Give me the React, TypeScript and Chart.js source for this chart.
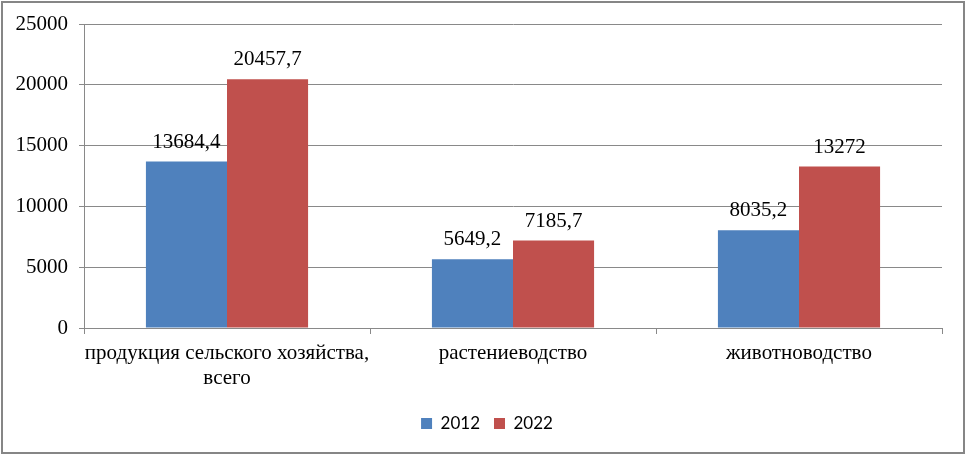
import React, { useEffect, useRef } from "react";
import { Chart, registerables } from "chart.js";

Chart.register(...registerables);

const categories: (string | string[])[] = [
  ["продукция сельского хозяйства,", "всего"],
  "растениеводство",
  "животноводство",
];
const series2012 = [13684.4, 5649.2, 8035.2];
const series2022 = [20457.7, 7185.7, 13272];
const labels2012 = ["13684,4", "5649,2", "8035,2"];
const labels2022 = ["20457,7", "7185,7", "13272"];
const yTicks = { min: 0, max: 25000, step: 5000 };

const SERIF = "'Liberation Serif', 'Times New Roman', serif";
const GRID = "#898989";

const valueLabels = {
  id: "valueLabels",
  afterDatasetsDraw(chart: any) {
    const ctx = chart.ctx;
    ctx.save();
    ctx.font = `21px ${SERIF}`;
    ctx.fillStyle = "#000";
    ctx.textAlign = "center";
    ctx.textBaseline = "bottom";
    chart.data.datasets.forEach((ds: any, di: number) => {
      const meta = chart.getDatasetMeta(di);
      meta.data.forEach((bar: any, i: number) => {
        ctx.fillText(ds.valueLabels[i], bar.x, bar.y - 9);
      });
    });
    ctx.restore();
  },
};

const frame = {
  id: "frame",
  afterDraw(chart: any) {
    const ctx = chart.ctx;
    ctx.save();
    ctx.strokeStyle = "#868686";
    ctx.lineWidth = 2;
    ctx.strokeRect(2, 2, chart.width - 4, chart.height - 3);
    ctx.restore();
  },
};

export default function App() {
  const ref = useRef<HTMLCanvasElement>(null);
  useEffect(() => {
    const chart = new Chart(ref.current as HTMLCanvasElement, {
      type: "bar",
      data: {
        labels: categories,
        datasets: [
          {
            label: "2012",
            data: series2012,
            backgroundColor: "#4F81BD",
            valueLabels: labels2012,
          } as any,
          {
            label: "2022",
            data: series2022,
            backgroundColor: "#C0504D",
            valueLabels: labels2022,
          } as any,
        ],
      },
      options: {
        animation: false,
        responsive: false,
        devicePixelRatio: 1,
        layout: { padding: { top: 24, right: 0, bottom: 12, left: 8 } },
        categoryPercentage: 0.567,
        barPercentage: 1,
        plugins: {
          legend: {
            position: "bottom",
            labels: {
              boxWidth: 11,
              boxHeight: 11,
              padding: 14,
              color: "#000",
              font: { family: "Lato, 'Open Sans', sans-serif", size: 17 },
            },
          },
          tooltip: { enabled: false },
        },
        scales: {
          x: {
            grid: {
              offset: true,
              drawOnChartArea: false,
              drawTicks: true,
              tickLength: 6,
              color: GRID,
            },
            border: { color: GRID, width: 1 },
            ticks: {
              color: "#000",
              font: { family: SERIF, size: 21, lineHeight: 1.2 },
              padding: 7,
              maxRotation: 0,
              autoSkip: false,
            },
            afterFit(scale: any) {
              scale.height = 73;
              scale.paddingRight = 24;
              scale.paddingLeft = 0;
            },
          },
          y: {
            min: yTicks.min,
            max: yTicks.max,
            grid: { color: GRID, tickLength: 5, drawTicks: true },
            border: { color: GRID, width: 1 },
            ticks: {
              stepSize: yTicks.step,
              color: "#000",
              font: { family: SERIF, size: 21 },
              padding: 11,
              callback: (v: any) => String(v),
            },
            afterFit(scale: any) {
              scale.width = 76;
            },
          },
        },
      },
      plugins: [valueLabels, frame],
    } as any);
    return () => chart.destroy();
  }, []);
  return (
    <div style={{ position: "fixed", left: 0, top: 0, width: 966, height: 454, background: "#fff" }}>
      <canvas ref={ref} width={966} height={454} style={{ display: "block" }} />
    </div>
  );
}
